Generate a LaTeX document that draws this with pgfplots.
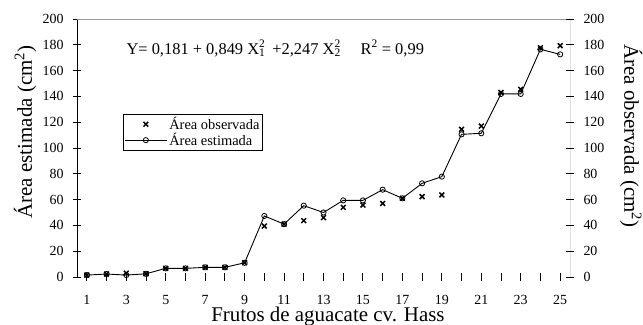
\documentclass[border=0pt]{standalone}
\usepackage{pgfplots}
\pgfplotsset{compat=1.18}
\usepackage{fontspec}
\setmainfont{Liberation Serif}

\begin{document}
\begin{tikzpicture}
\path[use as bounding box] (0,0) rectangle (643bp,325bp);
\begin{axis}[
  at={(77bp,48bp)}, anchor=south west,
  scale only axis, width=493bp, height=258bp,
  xmin=0.5, xmax=25.5, ymin=0, ymax=200,
  axis line style={draw=none},
  xtick={1,3,...,25}, minor xtick={2,4,...,24},
  ytick={0,20,...,200},
  xtick pos=left, ytick pos=left,
  tick align=center,
  major tick length=8bp, minor tick length=8bp,
  every tick/.style={black, line width=0.9bp},
  /pgf/number format/assume math mode=true,
  tick label style={font=\fontsize{14}{14}\selectfont},
  xticklabel style={yshift=-11bp},
  yticklabel style={xshift=-6bp},
  xlabel={Frutos de aguacate cv. Hass},
  xlabel style={at={(axis description cs:0.509,-0.152)}, anchor=center, font=\fontsize{21}{21}\selectfont},
  ylabel={Área estimada (cm\textsuperscript{2})},
  ylabel style={at={(axis description cs:-0.105,0.562)}, anchor=center, font=\fontsize{21}{21}\selectfont},
  legend style={at={(axis description cs:0.0933,0.632)}, anchor=north west, draw=black, line width=0.8bp,
    font=\fontsize{14.5}{15}\selectfont, inner xsep=1bp, inner ysep=1bp, row sep=-2bp, cells={anchor=west}},
  legend image code/.code={\draw[mark repeat=2,mark phase=2,#1] plot coordinates {(0bp,0bp)(21bp,0bp)(42bp,0bp)};},
]
\draw[black, line width=0.9bp] (rel axis cs:0,0) -- (rel axis cs:1,0);
\draw[black, line width=0.9bp] (rel axis cs:0,0) -- (rel axis cs:0,1);
\draw[black, line width=0.9bp] (rel axis cs:1,0) -- (rel axis cs:1,1);
\draw[gray!80, line width=0.9bp] (rel axis cs:0,1) -- (rel axis cs:1,1);

\addplot[only marks, mark=x, mark size=3.4bp, line width=1.5bp, black] coordinates {
(1,1.5)(2,2.3)(3,3)(4,2.5)(5,6.7)(6,6.7)(7,7.5)(8,7.5)(9,11)(10,39.5)(11,41)(12,43.7)(13,46)
(14,54)(15,55.8)(16,57)(17,61)(18,62.3)(19,63.6)(20,114.5)(21,117)(22,143)(23,145.5)(24,177.7)(25,179.3)};
\addlegendentry{Área observada}
\addplot[black, line width=0.9bp, mark=o, mark size=2.6bp, mark options={line width=0.8bp, fill=white, fill opacity=0}] coordinates {
(1,1.5)(2,2.3)(3,1.5)(4,2.5)(5,6.7)(6,6.7)(7,7.5)(8,7.5)(9,11)(10,47.3)(11,41)(12,55.3)(13,50)
(14,59.4)(15,59.4)(16,67.7)(17,61)(18,72.6)(19,77.8)(20,110.6)(21,111.4)(22,141.9)(23,141.9)(24,176.5)(25,172.6)};
\addlegendentry{Área estimada}

\node[anchor=base west, font=\fontsize{16.5}{16.5}\selectfont] at (axis description cs:0.0933,0.864)
  {Y= 0,181 + 0,849 X\rlap{\textsubscript{1}}\textsuperscript{2}\, +2,247 X\rlap{\textsubscript{2}}\textsuperscript{2}};
\node[anchor=base west, font=\fontsize{16.5}{16.5}\selectfont] at (axis description cs:0.568,0.864)
  {R\textsuperscript{2} = 0,99};
\end{axis}
\begin{axis}[
  at={(77bp,48bp)}, anchor=south west,
  scale only axis, width=493bp, height=258bp,
  xmin=0.5, xmax=25.5, ymin=0, ymax=200,
  axis line style={draw=none},
  hide x axis,
  ytick={0,20,...,200},
  ytick pos=right, yticklabel pos=right,
  tick align=center,
  major tick length=8bp,
  every tick/.style={black, line width=0.9bp},
  /pgf/number format/assume math mode=true,
  tick label style={font=\fontsize{14}{14}\selectfont},
  yticklabel style={xshift=6bp},
  ylabel={Área observada (cm\textsuperscript{2})},
  ylabel style={at={(axis description cs:1.124,0.547)}, anchor=center, rotate=180, font=\fontsize{21}{21}\selectfont},
]
\end{axis}
\end{tikzpicture}
\end{document}
